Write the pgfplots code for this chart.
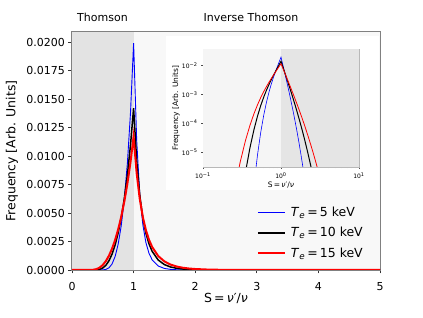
\documentclass[border=0pt]{standalone}
\usepackage{pgfplots}
\pgfplotsset{compat=1.18}
\usepackage{pgfplotstable}
\usepackage{fontspec}
\setmainfont{DejaVu Sans}
\definecolor{shadeL}{HTML}{E3E3E3}
\definecolor{shadeR}{HTML}{F8F8F8}
\definecolor{inL}{HTML}{F5F5F5}
\definecolor{inR}{HTML}{E5E5E5}
\definecolor{frame}{HTML}{808080}
\definecolor{inframe}{HTML}{B8B8B8}

\pgfplotstableread{
S blue black red
0.001 1e-12 1e-12 1e-12
0.1 1e-12 1e-12 1e-12
0.15 1e-12 1e-12 1.5e-11
0.2 1e-12 1e-12 8.9e-9
0.25 1e-12 1.8e-9 3.90e-7
0.3 1e-12 1.18e-7 4.55e-6
0.35 1.8e-10 1.96e-6 2.49e-5
0.4 2.3e-8 1.416e-5 8.51e-5
0.45 6.95e-7 6.01e-5 0.0002147
0.5 8.08e-6 0.000178 0.000440
0.55 4.89e-5 0.000414 0.000782
0.6 0.000188 0.000809 0.001255
0.65 0.000528 0.001395 0.001869
0.7 0.001186 0.002202 0.002636
0.75 0.002277 0.003262 0.003570
0.8 0.003916 0.004610 0.004690
0.85 0.006235 0.006292 0.006024
0.9 0.009435 0.008380 0.007604
0.95 0.01383 0.010977 0.009477
1.0 0.0199 0.0142 0.0117
1.05 0.011387 0.009568 0.008477
1.1 0.006662 0.006563 0.006233
1.15 0.003970 0.004564 0.004638
1.2 0.002398 0.003216 0.003491
1.25 0.001466 0.002293 0.002654
1.3 0.000902 0.001647 0.002033
1.4 0.000348 0.000872 0.001223
1.5 0.0001365 0.000474 0.000753
1.6 5.39e-5 0.000263 0.000474
1.7 2.13e-5 0.000148 0.000304
1.8 8.37e-6 8.45e-5 0.000197
1.9 3.28e-6 4.88e-5 0.0001299
2.0 1.28e-6 2.84e-5 8.65e-5
2.2 1.9e-7 9.84e-6 3.94e-5
2.4 2.7e-8 3.50e-6 1.85e-5
2.6 3.9e-9 1.27e-6 8.93e-6
2.8 1e-12 4.64e-7 4.40e-6
3.0 1e-12 1.73e-7 2.21e-6
3.3 1e-12 4.0e-8 8.08e-7
3.6 1e-12 9.6e-9 3.05e-7
4.0 1e-12 1e-12 8.7e-8
5.0 1e-12 1e-12 4.4e-9
}\data

\begin{document}
\begin{tikzpicture}[x=1pt,y=1pt]
\path[use as bounding box] (0,0) rectangle (423,318);
\begin{axis}[
  at={(72pt,48pt)}, anchor=south west, scale only axis,
  width=308pt, height=238pt,
  xmin=0, xmax=5, ymin=0, ymax=0.02088,
  xtick={0,1,2,3,4,5},
  ytick={0,0.0025,0.005,0.0075,0.01,0.0125,0.015,0.0175,0.02},
  scaled y ticks=false,
  yticklabel style={/pgf/number format/fixed, /pgf/number format/fixed zerofill, /pgf/number format/precision=4},
  xticklabel style={yshift=-5pt},
  /pgf/number format/assume math mode=true,
  ticklabel style={font=\fontsize{11}{13}\selectfont},
  tick align=outside, xtick pos=bottom, ytick pos=left,
  major tick length=3.5pt,
  tick style={black!80, line width=0.8pt},
  axis line style={draw=frame, line width=1.2pt},
  legend style={draw=none, fill=none, at={(rel axis cs:0.59,0.294)}, anchor=north west,
    font=\fontsize{12.5}{15}\selectfont,
    nodes={inner xsep=5pt, inner ysep=4.7pt}},
  legend cell align=left,
]
\fill[shadeL] (rel axis cs:0,0) rectangle (rel axis cs:0.2,1);
\fill[shadeR] (rel axis cs:0.2,0) rectangle (rel axis cs:1,1);
\addplot[blue, line width=0.9pt, legend image code/.code={\draw[blue,line width=0.9pt] (0pt,0pt) -- (27pt,0pt);}] table[x=S, y=blue] {\data};
\addlegendentry{\textit{T}\textsubscript{\textit{e}}\,=\,5 keV}
\addplot[black, line width=1.5pt, legend image code/.code={\draw[black,line width=1.5pt] (0pt,0pt) -- (27pt,0pt);}] table[x=S, y=black] {\data};
\addlegendentry{\textit{T}\textsubscript{\textit{e}}\,=\,10 keV}
\addplot[red, line width=2pt, legend image code/.code={\draw[red,line width=2pt] (0pt,0pt) -- (27pt,0pt);}] table[x=S, y=red] {\data};
\addlegendentry{\textit{T}\textsubscript{\textit{e}}\,=\,15 keV}
\end{axis}
\fill[white] (166,128) rectangle (379.4,282);
\begin{axis}[
  at={(203pt,151pt)}, anchor=south west, scale only axis,
  width=156pt, height=118pt,
  xmode=log, ymode=log,
  xmin=0.1, xmax=10, ymin=3.04e-6, ymax=0.038,
  xtick={0.1,1,10}, xticklabels={10\textsuperscript{−1},10\textsuperscript{0},10\textsuperscript{1}},
  ytick={1e-5,1e-4,1e-3,1e-2}, yticklabels={10\textsuperscript{−5},10\textsuperscript{−4},10\textsuperscript{−3},10\textsuperscript{−2}},
  yminorticks=false,
  ticklabel style={font=\fontsize{6}{7}\selectfont},
  tick align=outside, xtick pos=bottom, ytick pos=left,
  major tick length=2pt, minor tick length=1.2pt,
  tick style={black!70, line width=0.4pt},
  axis line style={draw=inframe, line width=0.6pt},
]
\fill[inL] (rel axis cs:0,0) rectangle (rel axis cs:0.5,1);
\fill[inR] (rel axis cs:0.5,0) rectangle (rel axis cs:1,1);
\addplot[blue, line width=0.6pt] table[x=S, y=blue] {\data};
\addplot[black, line width=1.0pt] table[x=S, y=black] {\data};
\addplot[red, line width=0.8pt] table[x=S, y=red] {\data};
\end{axis}
\node[font=\fontsize{11}{13}\selectfont] at (102.5,301) {Thomson};
\node[font=\fontsize{11}{13}\selectfont] at (251,301) {Inverse Thomson};
\node[font=\fontsize{12.5}{15}\selectfont, rotate=90] at (12,167) {Frequency [Arb. Units]};
\node[font=\fontsize{12.5}{15}\selectfont] at (226,20) {S\,=\,\textit{ν}′/\textit{ν}};
\node[font=\fontsize{7.5}{9}\selectfont, rotate=90] at (176,210) {Frequency [Arb. Units]};
\node[font=\fontsize{7.5}{9}\selectfont] at (281,133) {S\,=\,\textit{ν}′/\textit{ν}};
\end{tikzpicture}
\end{document}
